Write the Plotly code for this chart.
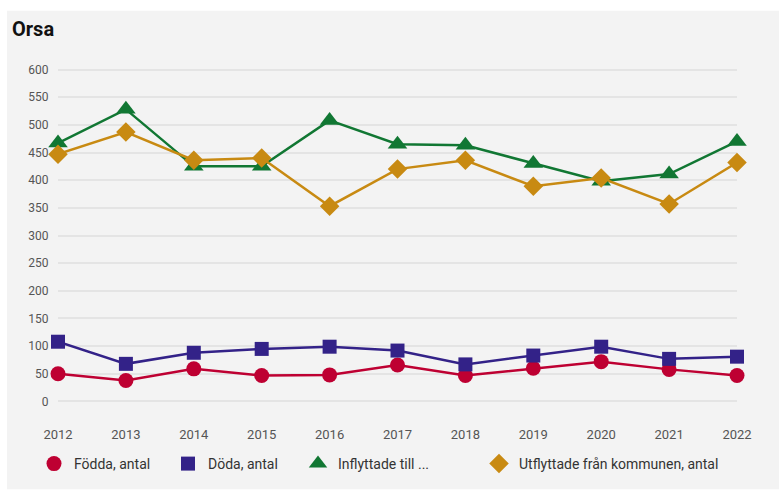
import plotly.graph_objects as go

years = [2012, 2013, 2014, 2015, 2016, 2017, 2018, 2019, 2020, 2021, 2022]
fodda = [50, 38, 59, 47, 48, 66, 47, 60, 72, 58, 47]
doda = [108, 68, 88, 95, 99, 92, 67, 83, 99, 77, 81]
inflyttade = [467, 528, 425, 425, 508, 465, 463, 430, 398, 411, 470]
utflyttade = [447, 487, 436, 440, 353, 420, 436, 389, 404, 357, 432]

series = [
    ("Födda, antal", fodda, "#BE0032", "circle", 15, "legend"),
    ("Döda, antal", doda, "#332288", "square", 14, "legend2"),
    ("Inflyttade till ...", inflyttade, "#117733", "triangle-up", 17, "legend3"),
    ("Utflyttade från kommunen, antal", utflyttade, "#C88A12", "diamond", 15, "legend4"),
]
legend_x = [54, 188, 318, 499]

fig = go.Figure()
for name, vals, color, sym, size, lg in series:
    fig.add_trace(go.Scatter(
        x=years, y=vals, name=name, mode="lines",
        line=dict(color=color, width=2.5),
        cliponaxis=False, showlegend=False, legendgroup=name,
    ))
for name, vals, color, sym, size, lg in series:
    fig.add_trace(go.Scatter(
        x=years, y=vals, name=name, mode="markers",
        marker=dict(symbol=sym, size=size, color=color),
        cliponaxis=False, legend=lg, legendgroup=name,
    ))

W, H = 779, 490
legend_common = dict(orientation="h", xref="container", yref="container",
                     xanchor="left", yanchor="middle", bgcolor="rgba(0,0,0,0)",
                     font=dict(family="Roboto", size=14, color="#333333"))
layout_legends = {}
for i, lx in enumerate(legend_x):
    key = "legend" if i == 0 else f"legend{i+1}"
    layout_legends[key] = dict(legend_common, x=(lx - 20) / W, y=1 - 464 / H)

fig.update_layout(
    width=W, height=H,
    paper_bgcolor="white",
    plot_bgcolor="rgba(0,0,0,0)",
    margin=dict(l=58, r=42, t=63.5, b=82.5, autoexpand=False),
    font=dict(family="Roboto", color="#555555"),
    title=dict(text="<b>Orsa</b>", x=12 / W, xanchor="left", y=1 - 28.5 / H,
               yanchor="middle", font=dict(family="Roboto", size=20, color="#111111")),
    xaxis=dict(range=[2012, 2022], tickvals=years, ticktext=[str(y) for y in years],
               showgrid=False, zeroline=False, showline=False,
               ticks="outside", ticklen=15, tickcolor="rgba(0,0,0,0)",
               tickfont=dict(size=13, color="#555555"), automargin=False),
    yaxis=dict(range=[-10, 610], tickvals=list(range(0, 601, 50)),
               showgrid=True, gridcolor="#e4e4e4", gridwidth=1.5,
               zeroline=False, showline=False,
               ticks="outside", ticklen=6, tickcolor="rgba(0,0,0,0)",
               tickfont=dict(size=12, color="#555555"), automargin=False),
    shapes=[dict(type="rect", xref="paper", yref="paper",
                 x0=-58 / 679 + 7 / 679, x1=1 + 42 / 679, y0=-82.5 / 344, y1=1 + (63.5 - 10) / 344,
                 fillcolor="#f3f3f3", line=dict(width=0), layer="below")],
    showlegend=True,
    **layout_legends,
)

fig.write_html("out.html")
